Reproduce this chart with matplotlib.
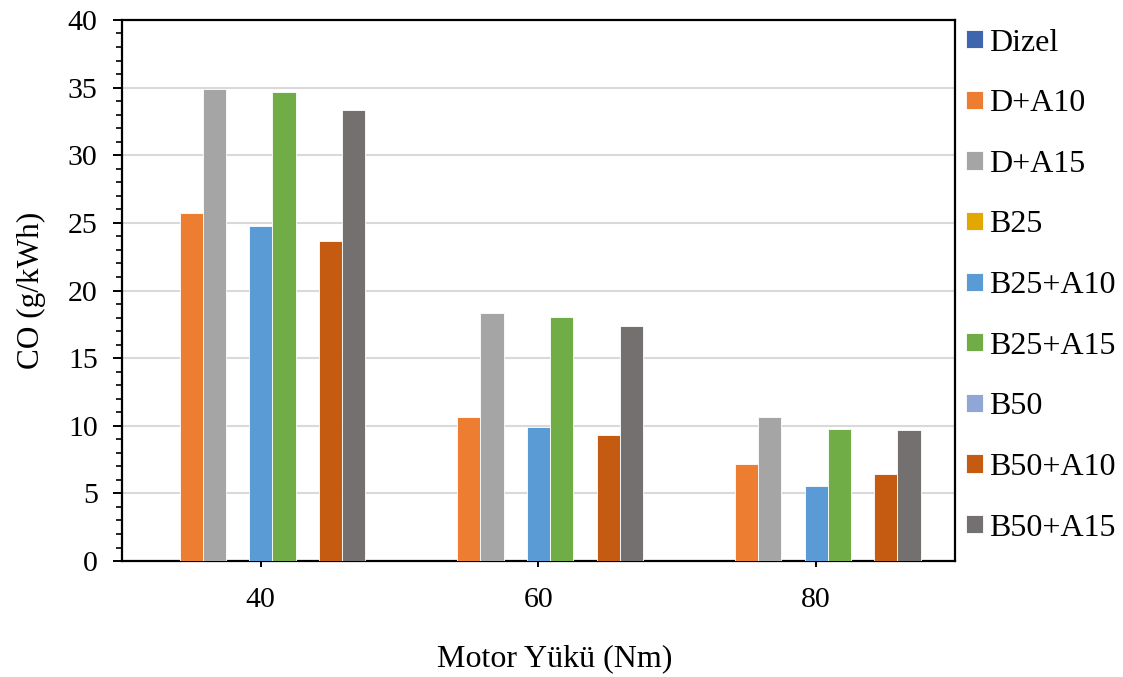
import matplotlib.pyplot as plt
import numpy as np
from matplotlib.ticker import MultipleLocator

plt.rcParams['font.family'] = ['Liberation Serif', 'DejaVu Serif']

loads = ['40', '60', '80']
series = ['Dizel', 'D+A10', 'D+A15', 'B25', 'B25+A10', 'B25+A15', 'B50', 'B50+A10', 'B50+A15']
dizel = [0, 0, 0]
d_a10 = [25.7, 10.65, 7.2]
d_a15 = [34.9, 18.3, 10.65]
b25 = [0, 0, 0]
b25_a10 = [24.8, 9.9, 5.55]
b25_a15 = [34.7, 18.05, 9.75]
b50 = [0, 0, 0]
b50_a10 = [23.65, 9.3, 6.4]
b50_a15 = [33.35, 17.35, 9.65]
values = [dizel, d_a10, d_a15, b25, b25_a10, b25_a15, b50, b50_a10, b50_a15]
colors = ['#3F65AE', '#ED7D31', '#A5A5A5', '#E2A800', '#5B9BD5',
          '#70AD47', '#8FA6D6', '#C55A11', '#757070']

fig = plt.figure(figsize=(11.23, 6.77), dpi=100)
ax = fig.add_axes([0.1086, 0.1713, 0.7418, 0.7992])

x = np.arange(len(loads))
w = 0.0836
for j, (name, vals, c) in enumerate(zip(series, values, colors)):
    ax.bar(x + (j - 4) * w, vals, width=w, color=c, label=name,
           edgecolor='white', linewidth=0.6, zorder=3)

ax.set_xlim(-0.5, 2.5)
ax.set_ylim(0, 40)
ax.set_xticks(x)
ax.set_xticklabels(loads)
ax.yaxis.set_major_locator(MultipleLocator(5))
ax.yaxis.set_minor_locator(MultipleLocator(1))
ax.grid(axis='y', which='major', color='#D9D9D9', linewidth=1.5, zorder=0)
ax.set_axisbelow(True)

for s in ax.spines.values():
    s.set_color('black')
    s.set_linewidth(1.6)

ax.tick_params(axis='y', which='major', direction='out', length=6.5, width=1.4,
               labelsize=21.5, pad=11)
ax.tick_params(axis='y', which='minor', direction='out', length=4.3, width=1.2)
ax.tick_params(axis='x', which='major', direction='out', length=4.5, width=1.4,
               labelsize=21.5, pad=14)

ax.set_ylabel('CO (g/kWh)', fontsize=22.5, labelpad=16)
ax.set_xlabel('Motor Yükü (Nm)', fontsize=23, labelpad=23)
ax.xaxis.label.set_x(0.52)

leg = ax.legend(loc='upper left', bbox_to_anchor=(1.0055, 0.996), frameon=False,
                fontsize=23, handlelength=0.53, handleheight=0.5,
                handletextpad=0.19, labelspacing=0.99, borderaxespad=0,
                borderpad=0.2)

fig.savefig('out.png', dpi=100)
